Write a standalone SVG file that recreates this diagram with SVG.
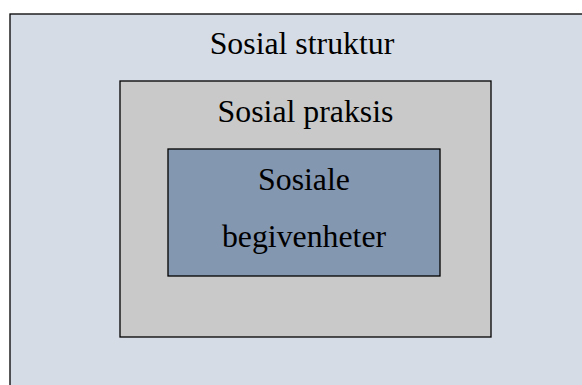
<svg xmlns="http://www.w3.org/2000/svg" width="582" height="385" viewBox="0 0 582 385">
<style>
.t{font-family:"Liberation Serif","Times New Roman",serif;font-size:31.8px;fill:#000;text-anchor:middle}
.b{stroke:#000;stroke-width:1.3}
</style>
<rect width="582" height="385" fill="#ffffff"/>
<g id="sosial-struktur">
<rect class="b" x="10" y="14" width="590" height="390" fill="#D6DCE5"/>
<text class="t" x="302" y="53.5">Sosial struktur</text>
</g>
<g id="sosial-praksis">
<rect class="b" x="120" y="81" width="371" height="256" fill="#C9C9C9"/>
<text class="t" x="305.5" y="121.5">Sosial praksis</text>
</g>
<g id="sosiale-begivenheter">
<rect class="b" x="168" y="149" width="272" height="127" fill="#8497B0"/>
<text class="t" x="304" y="190">Sosiale</text>
<text class="t" x="304" y="247">begivenheter</text>
</g>
<g id="connectors"></g>
</svg>
